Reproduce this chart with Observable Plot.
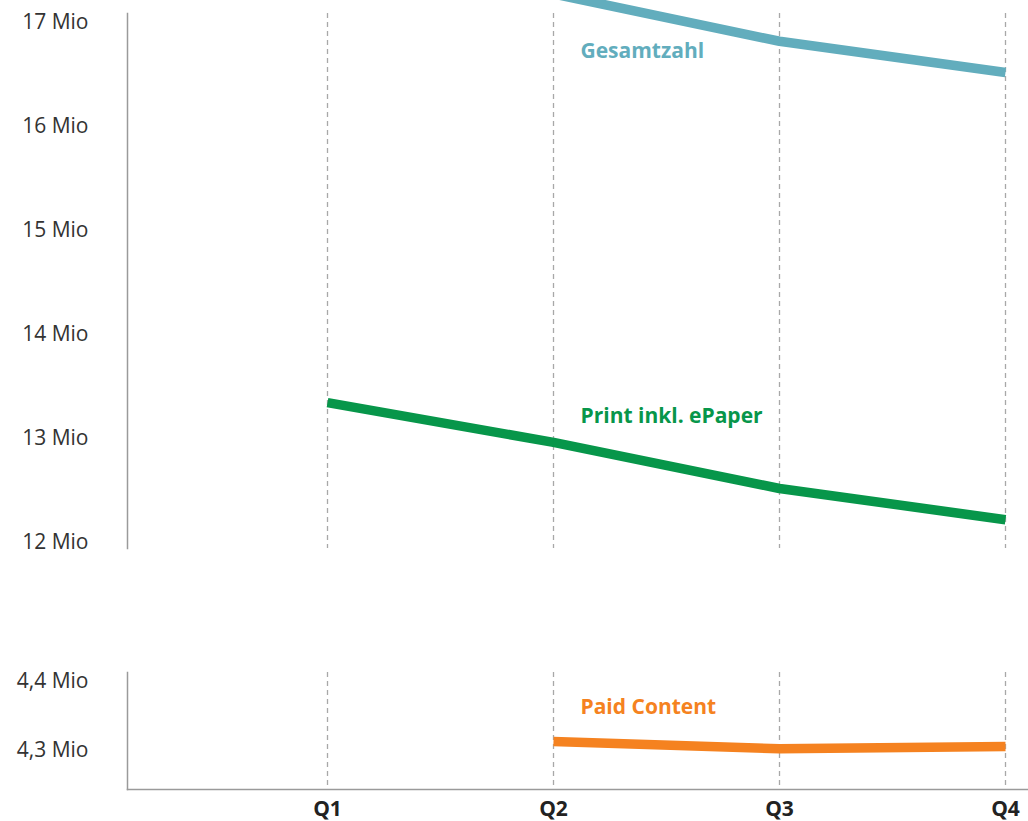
<!DOCTYPE html>
<html lang="de">
<head>
<meta charset="utf-8">
<title>Auflage nach Quartalen</title>
<script src="https://cdn.jsdelivr.net/npm/d3@7"></script>
<script src="https://cdn.jsdelivr.net/npm/@observablehq/plot@0.6"></script>
<style>
  html, body { margin: 0; padding: 0; background: #fff; }
  #chart { width: 1028px; height: 821px; overflow: hidden; }
  #chart svg { display: block; overflow: visible; }
</style>
</head>
<body>
<div id="chart"></div>
<script>
// Quarterly circulation figures, in millions
const quarters = ["Q1", "Q2", "Q3", "Q4"];
const gesamtzahl = [null, 17.265, 16.81, 16.51];
const printEpaper = [13.335, 12.953, 12.51, 12.21];
const paidContent = [null, 4.3115, 4.301, 4.3045];

const upperTicks = [12, 13, 14, 15, 16, 17];
const lowerTicks = [4.3, 4.4];

const colors = {
  gesamt: "#62adbd",
  print: "#07964a",
  paid: "#f58220"
};

const rows = (values) =>
  quarters.map((q, i) => ({q, v: values[i]})).filter((d) => d.v != null);

const mio = (d) => d.toLocaleString("de-DE") + " Mio";

const fontFamily = "'Open Sans', 'Noto Sans', sans-serif";
const fontSize = 21;
const axisColor = "#9a9a9a";
const gridStyle = {stroke: "#a8a8a8", strokeWidth: 1.3, strokeDasharray: "5,4"};
const lineStyle = {strokeWidth: 9.5, strokeLinecap: "butt", strokeLinejoin: "round"};
const labelStyle = {textAnchor: "start", dx: 27, fontWeight: "bold", fontSize};

const xScale = {type: "point", domain: quarters, range: [326, 1005], padding: 0};

// Upper panel: total and print circulation
const upper = Plot.plot({
  width: 1028,
  height: 560,
  marginLeft: 127,
  marginRight: 0,
  marginTop: 13,
  marginBottom: 12,
  style: {fontFamily, fontSize: `${fontSize}px`, color: "#333", background: "transparent"},
  x: {...xScale, axis: null},
  y: {domain: [11.933, 17.077], axis: null},
  marks: [
    Plot.ruleX(quarters, gridStyle),
    Plot.frame({anchor: "left", stroke: axisColor, strokeWidth: 1.5}),
    Plot.axisY(upperTicks, {tickSize: 0, tickPadding: 39, tickFormat: mio, fontSize, label: null, dy: 1}),
    Plot.line(rows(gesamtzahl), {x: "q", y: "v", stroke: colors.gesamt, ...lineStyle}),
    Plot.line(rows(printEpaper), {x: "q", y: "v", stroke: colors.print, ...lineStyle}),
    Plot.text(["Gesamtzahl"], {x: () => "Q2", y: () => 16.71, text: (d) => d, fill: colors.gesamt, ...labelStyle}),
    Plot.text(["Print inkl. ePaper"], {x: () => "Q2", y: () => 13.2, text: (d) => d, fill: colors.print, ...labelStyle})
  ]
});

// Lower panel: paid content subscriptions
const lower = Plot.plot({
  width: 1028,
  height: 261,
  marginLeft: 127,
  marginRight: 0,
  marginTop: 112,
  marginBottom: 32,
  style: {fontFamily, fontSize: `${fontSize}px`, color: "#333", background: "transparent"},
  x: {...xScale},
  y: {domain: [4.242, 4.4116], axis: null},
  marks: [
    Plot.ruleX(quarters, gridStyle),
    Plot.frame({anchor: "left", stroke: axisColor, strokeWidth: 1.5}),
    Plot.frame({anchor: "bottom", stroke: axisColor, strokeWidth: 1.5}),
    Plot.axisY(lowerTicks, {tickSize: 0, tickPadding: 39, tickFormat: mio, fontSize, label: null, dy: 1}),
    Plot.axisX({tickSize: 0, tickPadding: 12, fontWeight: "bold", fontSize, color: "#222", label: null}),
    Plot.line(rows(paidContent), {x: "q", y: "v", stroke: colors.paid, ...lineStyle}),
    Plot.text(["Paid Content"], {x: () => "Q2", y: () => 4.361, text: (d) => d, fill: colors.paid, ...labelStyle})
  ]
});

const chart = document.getElementById("chart");
chart.append(upper, lower);
</script>
</body>
</html>
